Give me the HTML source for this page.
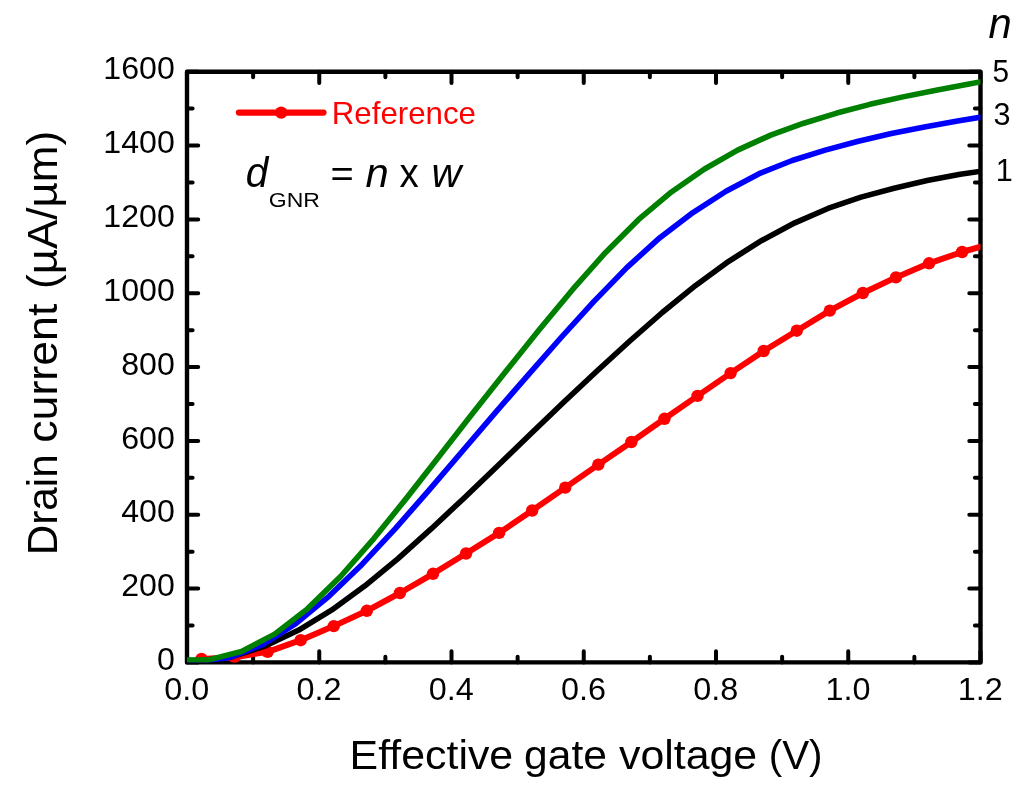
<!DOCTYPE html>
<html lang="en">
<head>
<meta charset="utf-8">
<title>Drain current vs effective gate voltage</title>
<style>
html,body{margin:0;padding:0;background:#fff;}
body{width:1024px;height:796px;overflow:hidden;}
svg{display:block;}
text{font-family:"Liberation Sans",sans-serif;}
</style>
</head>
<body>
<svg width="1024" height="796" viewBox="0 0 1024 796">
<rect width="1024" height="796" fill="#fff"/>
<g id="ticks" stroke="#000" stroke-width="4" stroke-linecap="round" fill="none">
<path d="M187 662.4v-11.2M187 71.7v11.2M253.12 662.4v-5.6M253.12 71.7v5.6M319.25 662.4v-11.2M319.25 71.7v11.2M385.38 662.4v-5.6M385.38 71.7v5.6M451.5 662.4v-11.2M451.5 71.7v11.2M517.62 662.4v-5.6M517.62 71.7v5.6M583.75 662.4v-11.2M583.75 71.7v11.2M649.88 662.4v-5.6M649.88 71.7v5.6M716 662.4v-11.2M716 71.7v11.2M782.12 662.4v-5.6M782.12 71.7v5.6M848.25 662.4v-11.2M848.25 71.7v11.2M914.38 662.4v-5.6M914.38 71.7v5.6M980.5 662.4v-11.2M980.5 71.7v11.2M187 662.4h11.2M980.5 662.4h-11.2M187 625.48h5.6M980.5 625.48h-5.6M187 588.56h11.2M980.5 588.56h-11.2M187 551.64h5.6M980.5 551.64h-5.6M187 514.73h11.2M980.5 514.73h-11.2M187 477.81h5.6M980.5 477.81h-5.6M187 440.89h11.2M980.5 440.89h-11.2M187 403.97h5.6M980.5 403.97h-5.6M187 367.05h11.2M980.5 367.05h-11.2M187 330.13h5.6M980.5 330.13h-5.6M187 293.21h11.2M980.5 293.21h-11.2M187 256.29h5.6M980.5 256.29h-5.6M187 219.38h11.2M980.5 219.38h-11.2M187 182.46h5.6M980.5 182.46h-5.6M187 145.54h11.2M980.5 145.54h-11.2M187 108.62h5.6M980.5 108.62h-5.6M187 71.7h11.2M980.5 71.7h-11.2"/>
</g>
<rect id="frame" x="187" y="71.7" width="793.5" height="590.7" fill="none" stroke="#000" stroke-width="4.4" stroke-linejoin="round"/>
<defs><clipPath id="plotclip"><rect x="187" y="71.7" width="793.5" height="590.7"/></clipPath></defs>
<g id="curves" fill="none" stroke-linejoin="round" stroke-linecap="butt" clip-path="url(#plotclip)">
<polyline stroke="#f00" stroke-width="6" points="201.5,659 234.57,657.2 267.64,651.8 300.71,640.2 333.78,626.1 366.85,610.8 399.92,593 432.99,573.8 466.06,553.5 499.13,532.9 532.2,510.5 565.27,487.6 598.34,464.6 631.41,442 664.48,418.8 697.55,395.9 730.62,373.1 763.69,351 796.76,330.7 829.83,310.6 862.9,293 895.97,277.4 929.04,263.3 962.11,252 984.5,245.73"/>
<g fill="#f00" stroke="none"><circle cx="201.5" cy="659" r="6.2"/><circle cx="234.57" cy="657.2" r="6.2"/><circle cx="267.64" cy="651.8" r="6.2"/><circle cx="300.71" cy="640.2" r="6.2"/><circle cx="333.78" cy="626.1" r="6.2"/><circle cx="366.85" cy="610.8" r="6.2"/><circle cx="399.92" cy="593" r="6.2"/><circle cx="432.99" cy="573.8" r="6.2"/><circle cx="466.06" cy="553.5" r="6.2"/><circle cx="499.13" cy="532.9" r="6.2"/><circle cx="532.2" cy="510.5" r="6.2"/><circle cx="565.27" cy="487.6" r="6.2"/><circle cx="598.34" cy="464.6" r="6.2"/><circle cx="631.41" cy="442" r="6.2"/><circle cx="664.48" cy="418.8" r="6.2"/><circle cx="697.55" cy="395.9" r="6.2"/><circle cx="730.62" cy="373.1" r="6.2"/><circle cx="763.69" cy="351" r="6.2"/><circle cx="796.76" cy="330.7" r="6.2"/><circle cx="829.83" cy="310.6" r="6.2"/><circle cx="862.9" cy="293" r="6.2"/><circle cx="895.97" cy="277.4" r="6.2"/><circle cx="929.04" cy="263.3" r="6.2"/><circle cx="962.11" cy="252" r="6.2"/></g>
<polyline stroke="#000" stroke-width="5.6" points="166.53,659.72 199.6,661.11 232.67,656.44 265.74,645.82 298.81,630.08 331.88,609.92 364.95,585.86 398.02,558.59 431.09,528.96 464.16,497.93 497.23,466.21 530.3,434.24 563.37,402.47 596.44,371.43 629.51,341.26 662.58,312.26 695.65,285.42 728.72,261.32 761.79,240.44 794.86,222.82 827.93,208.46 861,197.16 894.07,188.22 927.14,180.56 960.21,174.22 993.28,169.52"/>
<polyline stroke="#00f" stroke-width="5.6" points="163.83,657.28 196.9,661.64 229.97,657.4 263.04,644.43 296.11,623.36 329.18,596.05 362.25,564.14 395.32,528.67 428.39,490.89 461.46,452.24 494.53,413.66 527.6,375.56 560.67,338.02 593.74,301.62 626.81,267.6 659.88,237.65 692.95,212.58 726.02,191.24 759.09,173.7 792.16,160.5 825.23,150.1 858.3,141.25 891.37,133.6 924.44,126.91 957.51,120.94 990.58,115.61"/>
<polyline stroke="#008000" stroke-width="5.6" points="175.43,660.06 208.5,659.89 241.57,651.45 274.64,634.14 307.71,608.6 340.78,576.24 373.85,538.61 406.92,497.62 439.99,455.16 473.06,412.77 506.13,370.99 539.2,329.86 572.27,289.97 605.34,252.68 638.41,219.68 671.48,191.94 704.55,168.96 737.62,150.16 770.69,135.12 803.76,123.21 836.83,113.07 869.9,104.34 902.97,96.87 936.04,90.17 969.11,83.89 1002.18,77.98"/>
</g>
<g id="legend"><line x1="238.9" y1="112.6" x2="323.5" y2="112.6" stroke="#f00" stroke-width="6.2" stroke-linecap="round"/><circle cx="281.2" cy="112.6" r="6.2" fill="#f00"/></g>
<g id="labels" opacity="0.999">
<text id="yt0" transform="translate(174.78 670.09) scale(1.0706 1.0362)" font-size="30" text-anchor="end">0</text>
<text id="yt200" transform="translate(174.78 596.25) scale(1.0706 1.0362)" font-size="30" text-anchor="end">200</text>
<text id="yt400" transform="translate(174.78 522.42) scale(1.0706 1.0362)" font-size="30" text-anchor="end">400</text>
<text id="yt600" transform="translate(174.78 448.58) scale(1.0706 1.0362)" font-size="30" text-anchor="end">600</text>
<text id="yt800" transform="translate(174.78 374.74) scale(1.0706 1.0362)" font-size="30" text-anchor="end">800</text>
<text id="yt1000" transform="translate(174.78 300.9) scale(1.0706 1.0362)" font-size="30" text-anchor="end">1000</text>
<text id="yt1200" transform="translate(174.78 227.07) scale(1.0706 1.0362)" font-size="30" text-anchor="end">1200</text>
<text id="yt1400" transform="translate(174.78 153.23) scale(1.0706 1.0362)" font-size="30" text-anchor="end">1400</text>
<text id="yt1600" transform="translate(174.78 79.39) scale(1.0706 1.0362)" font-size="30" text-anchor="end">1600</text>
<text id="xt0" transform="translate(186.68 700.14) scale(1.0787 1.0359)" font-size="30" text-anchor="middle">0.0</text>
<text id="xt1" transform="translate(318.93 700.14) scale(1.0787 1.0359)" font-size="30" text-anchor="middle">0.2</text>
<text id="xt2" transform="translate(451.18 700.14) scale(1.0787 1.0359)" font-size="30" text-anchor="middle">0.4</text>
<text id="xt3" transform="translate(583.43 700.14) scale(1.0787 1.0359)" font-size="30" text-anchor="middle">0.6</text>
<text id="xt4" transform="translate(715.68 700.14) scale(1.0787 1.0359)" font-size="30" text-anchor="middle">0.8</text>
<text id="xt5" transform="translate(847.93 700.14) scale(1.0787 1.0359)" font-size="30" text-anchor="middle">1.0</text>
<text id="xt6" transform="translate(980.18 700.14) scale(1.0787 1.0359)" font-size="30" text-anchor="middle">1.2</text>
<text id="legtxt" transform="translate(331.8 124.4) scale(1.0018 1.0000)" font-size="31.2" fill="#f00">Reference</text>
<text id="f_d" transform="translate(245.63 186.96) scale(0.9547 1.0217)" font-size="42.4" font-style="italic">d</text>
<text id="f_gnr" transform="translate(268.86 206.8) scale(1.1498 1.0362)" font-size="20">GNR</text>
<text id="f_eq" transform="translate(330.6 186.42) scale(0.9398 0.8616)" font-size="42.4">=</text>
<text id="f_n" transform="translate(365.4 187.14) scale(0.9845 0.9675)" font-size="42.4" font-style="italic">n</text>
<text id="f_x" transform="translate(399.57 187.13) scale(0.9074 0.9675)" font-size="42.4">x</text>
<text id="f_w" transform="translate(431.45 187.13) scale(0.9761 0.9675)" font-size="42.4" font-style="italic">w</text>
<text id="lab_n" transform="translate(988.4 37.65) scale(0.9708 0.9962)" font-size="43" font-style="italic">n</text>
<text id="lab_5" transform="translate(992.41 81.58) scale(0.9924 1.0522)" font-size="30">5</text>
<text id="lab_3" transform="translate(993.5 124.88) scale(1.0207 1.0359)" font-size="30">3</text>
<text id="lab_1" transform="translate(995.77 180.9) scale(1.0220 1.0447)" font-size="30">1</text>
<text id="xw0" transform="translate(349.56 769.4) scale(1.0330 1.0000)" font-size="41.5">Effective</text>
<text id="xw1" transform="translate(524.04 769.4) scale(1.0260 1.0000)" font-size="41.5">gate</text>
<text id="xw2" transform="translate(619 769.4) scale(1.0322 1.0000)" font-size="41.5">voltage</text>
<text id="xw3" transform="translate(768.69 769.4) scale(0.9744 1.0000)" font-size="41.5">(V)</text>
<text id="yw0" transform="translate(56.8 555.35) rotate(-90) scale(1.0069 1.0000)" font-size="42">Drain</text>
<text id="yw1" transform="translate(56.8 442.77) rotate(-90) scale(1.0644 1.0000)" font-size="42">current</text>
<text id="yw2" transform="translate(56.8 288.99) rotate(-90) scale(1.0469 1.0000)" font-size="42">(µA/µm)</text>
</g>
</svg>
</body>
</html>
